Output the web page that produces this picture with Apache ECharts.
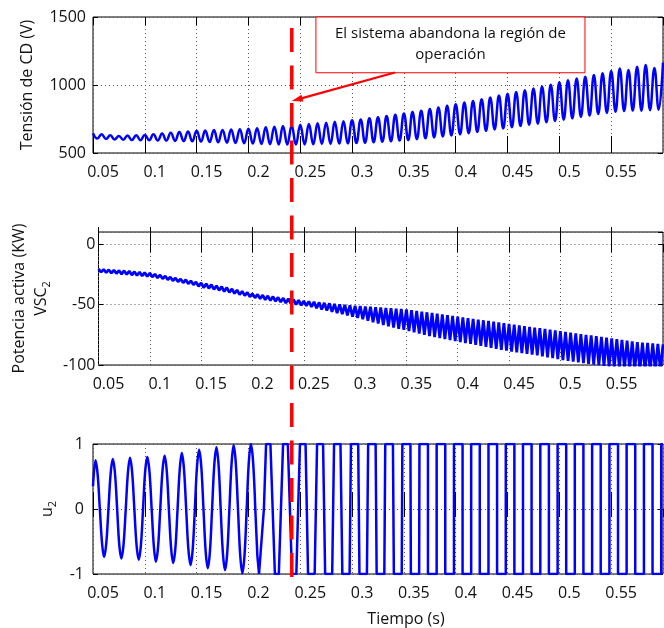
<!DOCTYPE html>
<html>
<head>
<meta charset="utf-8">
<script src="https://cdn.jsdelivr.net/npm/echarts@6/dist/echarts.min.js"></script>
<style>html,body{margin:0;padding:0;background:#fff}#c{width:664px;height:628px}</style>
</head>
<body>
<div id="c"></div>
<script>
// ---------- data ----------
// Tensión de CD (V): peaks / troughs of the oscillation  [time s, V]
const dcVoltage = [
[0.0500,645],[0.0542,606],[0.0583,638],[0.0625,603],[0.0667,630],[0.0708,599],[0.0750,625],[0.0792,597],[0.0833,628],[0.0875,596],[0.0917,630],[0.0958,594],
[0.1000,633],[0.1042,594],[0.1083,637],[0.1125,592],[0.1167,644],[0.1208,591],[0.1250,648],[0.1292,589],[0.1333,654],[0.1375,588],[0.1417,659],[0.1458,586],
[0.1500,664],[0.1542,584],[0.1583,665],[0.1625,581],[0.1667,669],[0.1708,579],[0.1750,670],[0.1792,576],[0.1833,673],[0.1875,574],[0.1917,675],[0.1958,572],
[0.2000,678],[0.2042,569],[0.2083,682],[0.2125,567],[0.2167,689],[0.2208,565],[0.2250,693],[0.2292,563],[0.2333,699],[0.2375,562],[0.2417,703],[0.2458,562],
[0.2500,708],[0.2542,563],[0.2583,713],[0.2625,564],[0.2667,718],[0.2708,566],[0.2750,722],[0.2792,567],[0.2833,729],[0.2875,569],[0.2917,734],[0.2958,571],
[0.3000,741],[0.3042,573],[0.3083,747],[0.3125,576],[0.3167,756],[0.3208,579],[0.3250,762],[0.3292,583],[0.3333,772],[0.3375,586],[0.3417,781],[0.3458,591],
[0.3500,790],[0.3542,595],[0.3583,802],[0.3625,602],[0.3667,811],[0.3708,608],[0.3750,823],[0.3792,615],[0.3833,834],[0.3875,622],[0.3917,847],[0.3958,629],
[0.4000,858],[0.4042,637],[0.4083,871],[0.4125,645],[0.4167,883],[0.4208,654],[0.4250,896],[0.4292,663],[0.4333,908],[0.4375,673],[0.4417,922],[0.4458,681],
[0.4500,935],[0.4542,690],[0.4583,949],[0.4625,698],[0.4667,962],[0.4708,708],[0.4750,975],[0.4792,716],[0.4833,989],[0.4875,726],[0.4917,1002],[0.4958,735],
[0.5000,1020],[0.5042,745],[0.5083,1035],[0.5125,755],[0.5167,1048],[0.5208,766],[0.5250,1060],[0.5292,775],[0.5333,1074],[0.5375,786],[0.5417,1086],[0.5458,795],
[0.5500,1103],[0.5542,804],[0.5583,1122],[0.5625,808],[0.5667,1110],[0.5708,812],[0.5750,1135],[0.5792,811],[0.5833,1147],[0.5875,815],[0.5917,1125],[0.5958,818],
[0.6000,1165]
];

// Potencia activa VSC2 (kW): upper / lower tips of the ripple  [time s, kW]
const activePower = [
[0.0500,-20.5],[0.0525,-23.2],[0.0550,-21.0],[0.0575,-23.6],[0.0600,-21.2],[0.0625,-24.0],[0.0650,-21.6],[0.0675,-24.3],[0.0700,-21.8],[0.0725,-24.8],
[0.0750,-22.0],[0.0775,-25.1],[0.0800,-22.3],[0.0825,-25.6],[0.0850,-22.8],[0.0875,-26.0],[0.0900,-23.1],[0.0925,-26.3],[0.0950,-23.6],[0.0975,-26.8],
[0.1000,-24.0],[0.1025,-27.2],[0.1050,-24.8],[0.1075,-28.0],[0.1100,-25.5],[0.1125,-28.6],[0.1150,-26.4],[0.1175,-29.5],[0.1200,-27.2],[0.1225,-30.3],
[0.1250,-28.0],[0.1275,-31.1],[0.1300,-28.8],[0.1325,-32.0],[0.1350,-29.5],[0.1375,-32.8],[0.1400,-30.4],[0.1425,-33.7],[0.1450,-31.2],[0.1475,-35.0],
[0.1500,-32.0],[0.1525,-36.0],[0.1550,-32.8],[0.1575,-36.6],[0.1600,-33.5],[0.1625,-37.5],[0.1650,-34.4],[0.1675,-38.3],[0.1700,-35.2],[0.1725,-39.2],
[0.1750,-36.0],[0.1775,-40.0],[0.1800,-37.0],[0.1825,-40.9],[0.1850,-38.0],[0.1875,-41.8],[0.1900,-39.0],[0.1925,-42.6],[0.1950,-40.0],[0.1975,-43.6],
[0.2000,-41.0],[0.2025,-44.5],[0.2050,-41.6],[0.2075,-45.2],[0.2100,-42.2],[0.2125,-46.0],[0.2150,-42.8],[0.2175,-46.7],[0.2200,-43.4],[0.2225,-47.3],
[0.2250,-44.0],[0.2275,-48.0],[0.2300,-44.6],[0.2325,-48.8],[0.2350,-45.2],[0.2375,-49.4],[0.2400,-45.8],[0.2425,-50.0],[0.2450,-46.4],[0.2475,-50.6],
[0.2500,-47.0],[0.2525,-51.0],[0.2550,-47.4],[0.2575,-52.0],[0.2600,-47.8],[0.2625,-53.0],[0.2650,-48.2],[0.2675,-54.1],[0.2700,-48.6],[0.2725,-55.0],
[0.2750,-49.0],[0.2775,-56.0],[0.2800,-49.4],[0.2825,-57.1],[0.2850,-49.8],[0.2875,-58.0],[0.2900,-50.2],[0.2925,-59.0],[0.2950,-50.6],[0.2975,-60.1],
[0.3000,-51.0],[0.3025,-61.0],[0.3050,-51.3],[0.3075,-62.2],[0.3100,-51.6],[0.3125,-63.4],[0.3150,-51.9],[0.3175,-64.6],[0.3200,-52.2],[0.3225,-65.8],
[0.3250,-52.5],[0.3275,-67.0],[0.3300,-52.8],[0.3325,-68.0],[0.3350,-53.1],[0.3375,-69.0],[0.3400,-53.4],[0.3425,-70.1],[0.3450,-53.7],[0.3475,-71.0],
[0.3500,-54.0],[0.3525,-72.0],[0.3550,-54.6],[0.3575,-73.0],[0.3600,-55.2],[0.3625,-74.0],[0.3650,-55.8],[0.3675,-75.0],[0.3700,-56.4],[0.3725,-76.0],
[0.3750,-57.0],[0.3775,-77.0],[0.3800,-57.6],[0.3825,-77.8],[0.3850,-58.2],[0.3875,-78.6],[0.3900,-58.8],[0.3925,-79.4],[0.3950,-59.4],[0.3975,-80.2],
[0.4000,-60.0],[0.4025,-81.0],[0.4050,-60.6],[0.4075,-81.8],[0.4100,-61.2],[0.4125,-82.6],[0.4150,-61.8],[0.4175,-83.4],[0.4200,-62.4],[0.4225,-84.2],
[0.4250,-63.0],[0.4275,-85.0],[0.4300,-63.6],[0.4325,-85.8],[0.4350,-64.2],[0.4375,-86.6],[0.4400,-64.8],[0.4425,-87.4],[0.4450,-65.4],[0.4475,-88.2],
[0.4500,-66.0],[0.4525,-89.0],[0.4550,-66.6],[0.4575,-89.6],[0.4600,-67.2],[0.4625,-90.2],[0.4650,-67.8],[0.4675,-90.8],[0.4700,-68.4],[0.4725,-91.4],
[0.4750,-69.0],[0.4775,-92.0],[0.4800,-69.6],[0.4825,-92.8],[0.4850,-70.2],[0.4875,-93.6],[0.4900,-70.8],[0.4925,-94.4],[0.4950,-71.4],[0.4975,-95.2],
[0.5000,-72.0],[0.5025,-96.0],[0.5050,-72.6],[0.5075,-96.6],[0.5100,-73.2],[0.5125,-97.2],[0.5150,-73.8],[0.5175,-97.8],[0.5200,-74.4],[0.5225,-98.4],
[0.5250,-75.0],[0.5275,-99.0],[0.5300,-75.6],[0.5325,-99.6],[0.5350,-76.2],[0.5375,-100.2],[0.5400,-76.8],[0.5425,-100.8],[0.5450,-77.4],[0.5475,-101.4],
[0.5500,-78.0],[0.5525,-102.0],[0.5550,-78.6],[0.5575,-102.4],[0.5600,-79.2],[0.5625,-102.8],[0.5650,-79.8],[0.5675,-103.2],[0.5700,-80.4],[0.5725,-103.6],
[0.5750,-81.0],[0.5775,-104.0],[0.5800,-81.4],[0.5825,-104.2],[0.5850,-81.8],[0.5875,-104.4],[0.5900,-82.2],[0.5925,-104.6],[0.5950,-82.6],[0.5975,-104.8],
[0.6000,-83.0]
];

// u2, sinusoidal part: eight readings per cycle  [time s, p.u.]
const u2Sine = [
[0.0500,0.35],
[0.0524,0.75],[0.0545,0.53],[0.0566,0],[0.0587,-0.52],[0.0607,-0.74],[0.0628,-0.53],[0.0649,0],[0.0670,0.54],
[0.0691,0.77],[0.0712,0.55],[0.0733,0],[0.0753,-0.54],[0.0774,-0.76],[0.0795,-0.54],[0.0816,0],[0.0837,0.56],
[0.0857,0.79],[0.0878,0.56],[0.0899,0],[0.0920,-0.55],[0.0941,-0.78],[0.0962,-0.56],[0.0983,0],[0.1003,0.57],
[0.1024,0.80],[0.1045,0.57],[0.1066,0],[0.1087,-0.57],[0.1107,-0.81],[0.1128,-0.58],[0.1149,0],[0.1170,0.58],
[0.1191,0.82],[0.1212,0.58],[0.1232,0],[0.1253,-0.59],[0.1274,-0.83],[0.1295,-0.60],[0.1316,0],[0.1337,0.61],
[0.1357,0.86],[0.1378,0.61],[0.1399,0],[0.1420,-0.61],[0.1441,-0.86],[0.1462,-0.62],[0.1483,0],[0.1503,0.64],
[0.1524,0.91],[0.1545,0.65],[0.1566,0],[0.1587,-0.65],[0.1607,-0.91],[0.1628,-0.66],[0.1649,0],[0.1670,0.67],
[0.1691,0.95],[0.1712,0.67],[0.1732,0],[0.1753,-0.67],[0.1774,-0.94],[0.1795,-0.68],[0.1816,0],[0.1837,0.70],
[0.1857,0.985],[0.1878,0.70],[0.1899,0],[0.1920,-0.70],[0.1941,-0.99],[0.1962,-0.71],[0.1983,0],[0.2003,0.71],
[0.2024,1.0],[0.2045,0.72],[0.2066,0]
];
// u2, saturated part: corners of the clipped / square wave  [time s, p.u.]
const u2Clipped = [
[0.2066,0],[0.2086,-0.72],[0.2102,-1],[0.2112,-1],[0.2149,0],[0.2170,1],[0.2212,1],[0.2255,-1],[0.2293,-1],[0.2334,1],[0.2380,1],
[0.2420,-1],[0.2462,-1],[0.2497,1],[0.2551,1],[0.2575,-1],[0.2639,-1],[0.2662,1],[0.2720,1],[0.2740,-1],
[0.2808,-1],[0.2826,1],[0.2888,1],[0.2906,-1],[0.2976,-1],[0.2989,1],[0.3059,1],[0.3071,-1],[0.3143,-1],
[0.3155,1],[0.3227,1],[0.3237,-1],[0.3311,-1],[0.3320,1],[0.3394,1],[0.3403,-1],[0.3479,-1],[0.3485,1],
[0.3563,1],[0.3567,-1],[0.3647,-1],[0.3650,1],[0.3732,1],[0.3732,-1],[0.3816,-1],[0.3816,1],[0.3899,1],
[0.3899,-1],[0.3983,-1],[0.3983,1],[0.4066,1],[0.4066,-1],[0.4149,-1],[0.4149,1],[0.4232,1],[0.4232,-1],
[0.4316,-1],[0.4316,1],[0.4399,1],[0.4399,-1],[0.4483,-1],[0.4483,1],[0.4566,1],[0.4566,-1],[0.4649,-1],
[0.4649,1],[0.4732,1],[0.4732,-1],[0.4816,-1],[0.4816,1],[0.4899,1],[0.4899,-1],[0.4983,-1],[0.4983,1],
[0.5066,1],[0.5066,-1],[0.5149,-1],[0.5149,1],[0.5232,1],[0.5232,-1],[0.5316,-1],[0.5316,1],[0.5399,1],
[0.5399,-1],[0.5483,-1],[0.5483,1],[0.5566,1],[0.5566,-1],[0.5649,-1],[0.5649,1],[0.5732,1],[0.5732,-1],
[0.5816,-1],[0.5816,1],[0.5899,1],[0.5899,-1],[0.5983,-1],[0.5983,1],[0.6000,1]
];

// axis ranges and annotation
const timeRange = [0.05, 0.6, 0.05];            // min, max, step
const dcRange = [500, 1500, 500];
const powerRange = [-100, 10, 50];
const u2Range = [-1, 1, 1];
const eventTime = 0.2418;                        // instant marked by the dashed line
const noteLines = ['El sistema abandona la región de', 'operación'];
const noteBox = {t0: 0.2651, t1: 0.5247, v0: 1090, v1: 1500};
const noteArrow = {tailT: 0.3413, tailV: 1092, tipT: 0.2418, tipV: 882};

// ---------- chart ----------
const FONT = '"Open Sans", "Liberation Sans", sans-serif';
const chart = echarts.init(document.getElementById('c'), null, {renderer: 'canvas', width: 664, height: 628});

const grids = [
  {left: 93, top: 17, width: 570, height: 136},
  {left: 93, top: 232, width: 570, height: 133},
  {left: 93, top: 444, width: 570, height: 134}
].map(g => Object.assign(g, {show: true, borderColor: '#000', borderWidth: 1, backgroundColor: 'transparent'}));

const dotted = {show: true, lineStyle: {type: [1, 3], color: '#555', width: 1}};

function xAxes(gi, withName) {
  return [
    {gridIndex: gi, type: 'value', position: 'bottom', min: timeRange[0], max: timeRange[1], interval: timeRange[2],
     axisLine: {show: false},
     axisTick: {show: true, inside: true, length: 17, lineStyle: {color: '#000', width: 1}},
     axisLabel: {show: true, showMaxLabel: false, fontSize: 16, fontFamily: FONT, color: '#111', margin: 11, padding: [0, 0, 0, 20]},
     splitLine: dotted,
     name: withName ? 'Tiempo (s)' : '', nameLocation: 'middle', nameGap: 37,
     nameTextStyle: {fontSize: 16, fontFamily: FONT, color: '#111', padding: [0, 0, 0, 56]}},
    {gridIndex: gi, type: 'value', position: 'top', min: timeRange[0], max: timeRange[1], interval: timeRange[2],
     axisLine: {show: false},
     axisTick: {show: true, inside: true, length: 8, lineStyle: {color: '#000', width: 1}},
     axisLabel: {show: false}, splitLine: {show: false}}
  ];
}

function yAxes(gi, range, name, gap, margin, rich) {
  return [
    {gridIndex: gi, type: 'value', position: 'left', min: range[0], max: range[1], interval: range[2],
     axisLine: {show: false},
     axisTick: {show: true, inside: true, length: 5, lineStyle: {color: '#000', width: 1}},
     axisLabel: {show: true, showMaxLabel: range[1] % range[2] === 0, fontSize: 16, fontFamily: FONT, color: '#111', margin: margin,
                 formatter: v => String(v)},
     splitLine: dotted,
     name: name, nameLocation: 'middle', nameRotate: 90, nameGap: gap,
     nameTextStyle: {fontSize: 16, fontFamily: FONT, color: '#111', lineHeight: 22, rich: rich || {}}},
    {gridIndex: gi, type: 'value', position: 'right', min: range[0], max: range[1], interval: range[2],
     axisLine: {show: false},
     axisTick: {show: true, inside: true, length: 5, lineStyle: {color: '#000', width: 1}},
     axisLabel: {show: false}, splitLine: {show: false}}
  ];
}

const subRich = {
  n: {fontSize: 16, fontFamily: FONT, color: '#111', lineHeight: 22},
  sub: {fontSize: 11, fontFamily: FONT, color: '#111', lineHeight: 12, verticalAlign: 'bottom'}
};

const blue = {color: '#0000ff', width: 2.5};

chart.setOption({
  animation: false,
  backgroundColor: '#fff',
  grid: grids,
  xAxis: [].concat(xAxes(0, false), xAxes(1, false), xAxes(2, true)),
  yAxis: [].concat(
    yAxes(0, dcRange, 'Tensión de CD (V)', 45, 7),
    yAxes(1, powerRange, '{n|Potencia activa (KW)}\n{n|VSC}{sub|2}', 38, 3, subRich),
    yAxes(2, u2Range, '{n|u}{sub|2}', 34, 9, subRich)
  ),
  series: [
    {type: 'line', xAxisIndex: 0, yAxisIndex: 0, data: dcVoltage, smooth: 0.45, showSymbol: false, lineStyle: blue, silent: true},
    {type: 'line', xAxisIndex: 2, yAxisIndex: 2, data: activePower, smooth: false, showSymbol: false, lineStyle: {color: '#0000ff', width: 2.8}, silent: true},
    {type: 'line', xAxisIndex: 4, yAxisIndex: 4, data: u2Sine, smooth: 0.35, showSymbol: false, lineStyle: blue, silent: true},
    {type: 'line', xAxisIndex: 4, yAxisIndex: 4, data: u2Clipped, smooth: false, showSymbol: false, lineStyle: blue, silent: true}
  ]
});

// ---------- annotation placed through the axes' own scales ----------
const px = (t, v) => chart.convertToPixel({xAxisIndex: 0, yAxisIndex: 0}, [t, v]);
const b0 = px(noteBox.t0, noteBox.v1), b1 = px(noteBox.t1, noteBox.v0);
const tip = px(noteArrow.tipT, noteArrow.tipV), tail = px(noteArrow.tailT, noteArrow.tailV);
const xEvent = px(eventTime, 1000)[0];
const yStart = chart.convertToPixel({yAxisIndex: 0}, dcRange[1]) + 11;
const yEnd = chart.convertToPixel({yAxisIndex: 4}, u2Range[0]) + 3;

const dx = tip[0] - tail[0], dy = tip[1] - tail[1], len = Math.hypot(dx, dy);
const ux = dx / len, uy = dy / len, nx = -uy, ny = ux;
const headL = 11, headW = 3.5;
const base = [tip[0] - ux * headL, tip[1] - uy * headL];
const cx = (b0[0] + b1[0]) / 2;

chart.setOption({
  graphic: [
    {type: 'line', z: 100, silent: true,
     shape: {x1: xEvent, y1: yStart, x2: xEvent, y2: yEnd},
     style: {stroke: '#ff0000', lineWidth: 3.5, lineDash: [24, 13.5]}},
    {type: 'rect', z: 101, silent: true,
     shape: {x: b0[0], y: b0[1], width: b1[0] - b0[0], height: b1[1] - b0[1]},
     style: {fill: '#fff', stroke: '#ff0000', lineWidth: 1}},
    {type: 'text', z: 102, silent: true, x: cx, y: b0[1] + 17,
     style: {text: noteLines[0], fill: '#111', fontSize: 15, fontFamily: FONT, align: 'center', verticalAlign: 'middle'}},
    {type: 'text', z: 102, silent: true, x: cx, y: b0[1] + 38,
     style: {text: noteLines[1], fill: '#111', fontSize: 15, fontFamily: FONT, align: 'center', verticalAlign: 'middle'}},
    {type: 'line', z: 101, silent: true,
     shape: {x1: tail[0], y1: tail[1], x2: base[0] + ux * 2, y2: base[1] + uy * 2},
     style: {stroke: '#ff0000', lineWidth: 2.2}},
    {type: 'polygon', z: 101, silent: true,
     shape: {points: [tip, [base[0] + nx * headW, base[1] + ny * headW], [base[0] - nx * headW, base[1] - ny * headW]]},
     style: {fill: '#ff0000'}}
  ]
});
</script>
</body>
</html>
